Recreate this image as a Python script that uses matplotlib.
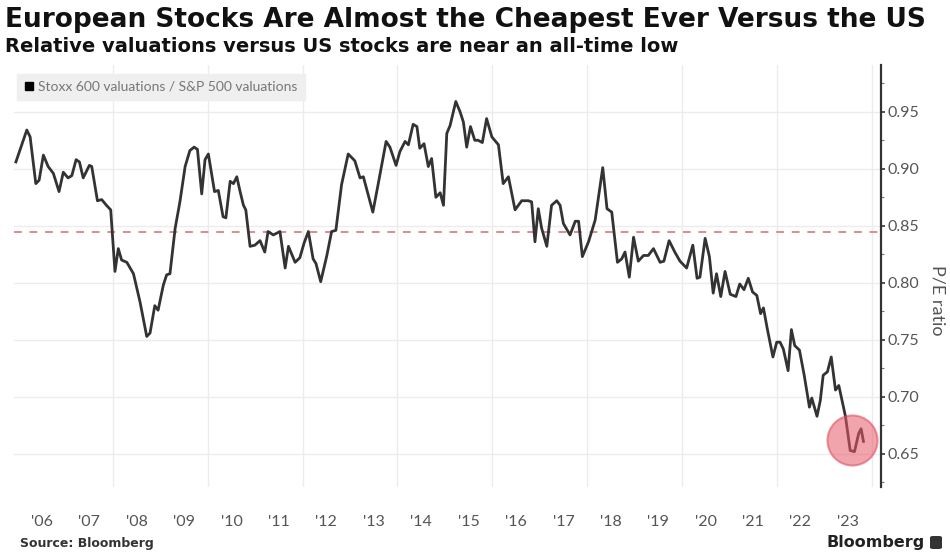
import numpy as np
import matplotlib
matplotlib.use("Agg")
import matplotlib.pyplot as plt
from matplotlib.patches import FancyBboxPatch

# Stoxx 600 P/E divided by S&P 500 P/E (decimal years)
years = [
    2005.95, 2006.18, 2006.25, 2006.37, 2006.44, 2006.53, 2006.63, 2006.74, 2006.86, 2006.95,
    2007.05, 2007.13, 2007.22, 2007.29, 2007.37, 2007.50, 2007.55, 2007.67, 2007.76, 2007.86,
    2007.95, 2008.04, 2008.11, 2008.18, 2008.29, 2008.43, 2008.57, 2008.71, 2008.78, 2008.88,
    2008.95, 2009.06, 2009.13, 2009.20, 2009.31, 2009.41, 2009.52, 2009.62, 2009.71, 2009.78,
    2009.87, 2009.94, 2010.01, 2010.14, 2010.22, 2010.32, 2010.38, 2010.47, 2010.54, 2010.61,
    2010.68, 2010.75, 2010.80, 2010.89, 2010.99, 2011.10, 2011.20, 2011.27, 2011.38, 2011.52,
    2011.63, 2011.70, 2011.84, 2011.94, 2012.03, 2012.12, 2012.22, 2012.28, 2012.38, 2012.51,
    2012.61, 2012.70, 2012.82, 2012.96, 2013.10, 2013.21, 2013.28, 2013.48, 2013.59, 2013.76,
    2013.84, 2013.97, 2014.05, 2014.16, 2014.23, 2014.33, 2014.41, 2014.47, 2014.56, 2014.65,
    2014.72, 2014.81, 2014.90, 2014.97, 2015.04, 2015.11, 2015.23, 2015.32, 2015.39, 2015.46,
    2015.54, 2015.63, 2015.70, 2015.79, 2015.88, 2015.99, 2016.13, 2016.23, 2016.34, 2016.48,
    2016.62, 2016.76, 2016.83, 2016.90, 2016.97, 2017.04, 2017.15, 2017.25, 2017.36, 2017.43,
    2017.50, 2017.64, 2017.75, 2017.82, 2017.90, 2018.03, 2018.17, 2018.26, 2018.33, 2018.42,
    2018.52, 2018.64, 2018.73, 2018.80, 2018.89, 2018.98, 2019.08, 2019.19, 2019.29, 2019.40,
    2019.54, 2019.62, 2019.73, 2019.85, 2019.96, 2020.10, 2020.23, 2020.32, 2020.38, 2020.49,
    2020.58, 2020.66, 2020.73, 2020.82, 2020.91, 2021.02, 2021.14, 2021.22, 2021.31, 2021.40,
    2021.49, 2021.58, 2021.66, 2021.72, 2021.80, 2021.92, 2022.00, 2022.07, 2022.14, 2022.24,
    2022.31, 2022.38, 2022.48, 2022.58, 2022.69, 2022.74, 2022.85, 2022.92, 2022.98, 2023.07,
    2023.15, 2023.24, 2023.31, 2023.45, 2023.55, 2023.64, 2023.73, 2023.78, 2023.83,
]
ratio = [
    0.906, 0.934, 0.928, 0.887, 0.890, 0.912, 0.902, 0.896, 0.880, 0.897,
    0.892, 0.894, 0.908, 0.906, 0.892, 0.903, 0.902, 0.872, 0.873, 0.868,
    0.864, 0.810, 0.830, 0.820, 0.818, 0.808, 0.783, 0.753, 0.756, 0.780,
    0.776, 0.798, 0.807, 0.808, 0.848, 0.871, 0.902, 0.916, 0.919, 0.917,
    0.878, 0.908, 0.913, 0.880, 0.881, 0.858, 0.857, 0.889, 0.887, 0.893,
    0.880, 0.868, 0.864, 0.832, 0.833, 0.837, 0.827, 0.845, 0.842, 0.845,
    0.813, 0.832, 0.818, 0.822, 0.835, 0.845, 0.821, 0.817, 0.801, 0.824,
    0.845, 0.846, 0.886, 0.913, 0.907, 0.892, 0.893, 0.862, 0.886, 0.924,
    0.919, 0.903, 0.915, 0.924, 0.921, 0.939, 0.937, 0.918, 0.922, 0.902,
    0.909, 0.875, 0.879, 0.868, 0.931, 0.938, 0.959, 0.950, 0.941, 0.919,
    0.937, 0.925, 0.925, 0.923, 0.944, 0.928, 0.921, 0.887, 0.893, 0.864,
    0.872, 0.872, 0.871, 0.836, 0.865, 0.848, 0.832, 0.868, 0.872, 0.868,
    0.852, 0.842, 0.854, 0.854, 0.823, 0.836, 0.855, 0.881, 0.901, 0.865,
    0.862, 0.818, 0.821, 0.827, 0.805, 0.840, 0.819, 0.824, 0.824, 0.830,
    0.818, 0.819, 0.837, 0.827, 0.819, 0.813, 0.833, 0.804, 0.805, 0.839,
    0.823, 0.791, 0.808, 0.788, 0.810, 0.790, 0.788, 0.799, 0.794, 0.804,
    0.792, 0.789, 0.773, 0.778, 0.760, 0.735, 0.748, 0.748, 0.742, 0.723,
    0.759, 0.745, 0.741, 0.719, 0.691, 0.699, 0.683, 0.697, 0.719, 0.722,
    0.735, 0.706, 0.710, 0.683, 0.653, 0.652, 0.668, 0.672, 0.661,
]
avg_ratio = 0.845
circle_at = (2023.58, 0.662)

year_ticks = list(range(2006, 2024))
year_labels = ["'%02d" % (y % 100) for y in year_ticks]
y_ticks = [0.65, 0.70, 0.75, 0.80, 0.85, 0.90, 0.95]

fig = plt.figure(figsize=(9.5, 5.53), dpi=100)
ax = fig.add_axes([14 / 950, 1 - 487 / 553, (881 - 14) / 950, (487 - 65) / 553])

# grid
for gx in range(2008, 2025, 2):
    ax.axvline(gx, color="#ececec", lw=1, zorder=0)
for gy in y_ticks:
    ax.axhline(gy, color="#ececec", lw=1, zorder=0)

ax.axhline(avg_ratio, color="#dd8a92", lw=1.4, ls=(0, (4, 4)), zorder=1)
line, = ax.plot(years, ratio, color="#333333", lw=2.0, zorder=2,
                solid_joinstyle="round", label="Stoxx 600 valuations / S&P 500 valuations")
ax.scatter([circle_at[0]], [circle_at[1]], s=1300, color="#e8596b", alpha=0.55,
           edgecolors="#d94a5c", linewidths=1.5, zorder=3)

ax.set_xlim(2005.91, 2024.2)
ax.set_ylim(0.621, 0.991)

for s in ["left", "top", "bottom"]:
    ax.spines[s].set_visible(False)
ax.spines["right"].set_color("#333333")
ax.spines["right"].set_linewidth(1.6)

ax.yaxis.tick_right()
ax.set_yticks(y_ticks)
ax.set_yticklabels(["%.2f" % v for v in y_ticks])
ax.set_yticks(np.arange(0.625, 0.99, 0.05), minor=True)
ax.tick_params(axis="y", which="major", length=3, width=1.2, color="#333333",
               labelsize=11.5, labelcolor="#555555", pad=2)
ax.tick_params(axis="y", which="minor", length=2, width=0.8, color="#777777")
for t in ax.get_yticklabels():
    t.set_fontfamily("Lato")

ax.set_xticks([y + 0.5 for y in year_ticks])
ax.set_xticklabels(year_labels)
ax.tick_params(axis="x", length=0, labelsize=11.5, labelcolor="#555555", pad=20)
for t in ax.get_xticklabels():
    t.set_fontfamily("Lato")

leg = ax.legend(handles=[line], loc="upper left", bbox_to_anchor=(-0.004, 0.995),
                frameon=True, fancybox=False, facecolor="#efefef", edgecolor="#efefef",
                framealpha=1, handlelength=0.7, handletextpad=0.3, borderpad=0.5,
                prop={"family": "Lato", "size": 10})
leg.legend_handles[0].set_linewidth(0)
leg.legend_handles[0].set_marker("s")
leg.legend_handles[0].set_markersize(6)
leg.legend_handles[0].set_markerfacecolor("black")
leg.legend_handles[0].set_markeredgecolor("black")
for t in leg.get_texts():
    t.set_color("#777777")

fig.text(938 / 950, 1 - 300 / 553, "P/E ratio", rotation=270, ha="center", va="center",
         fontsize=13, color="#555555", family="Lato")

fig.text(5 / 950, 1 - 20 / 553, "European Stocks Are Almost the Cheapest Ever Versus the US",
         fontsize=19, fontweight="bold", color="#111111", family="DejaVu Sans", va="center")
fig.text(5 / 950, 1 - 47 / 553, "Relative valuations versus US stocks are near an all-time low",
         fontsize=14, fontweight="bold", color="#111111", family="DejaVu Sans", va="center")

fig.text(20 / 950, 1 - 543 / 553, "Source: Bloomberg", fontsize=9, fontweight="bold",
         color="#333333", family="DejaVu Sans", va="center")
fig.text(925 / 950, 1 - 542 / 553, "Bloomberg", fontsize=11.5, fontweight="bold",
         color="#222222", family="DejaVu Sans", va="center", ha="right")
fig.patches.append(FancyBboxPatch((930 / 950, 1 - 549 / 553), 12 / 950, 13 / 553,
                                  boxstyle="round,pad=0,rounding_size=0.003",
                                  transform=fig.transFigure, facecolor="#333333",
                                  edgecolor="none"))

fig.savefig("out.png", dpi=100)
